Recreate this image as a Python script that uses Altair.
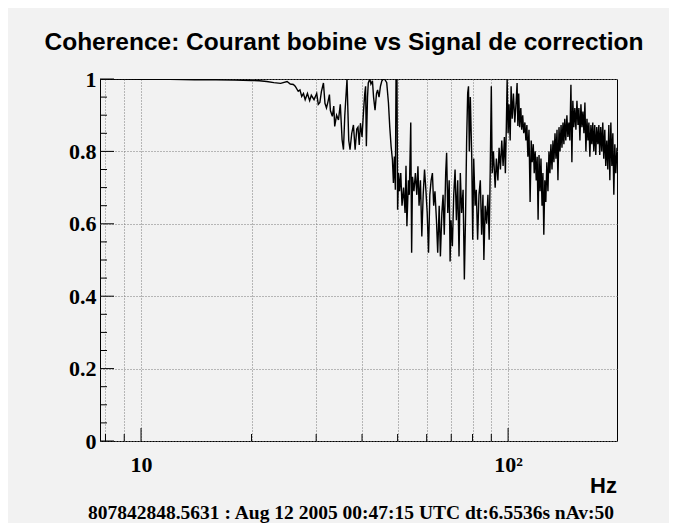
import altair as alt
import pandas as pd

# ---------------- data ----------------
title_text = "Coherence: Courant bobine vs Signal de correction"
x_unit = "Hz"
footer_text = "807842848.5631 : Aug 12 2005 00:47:15 UTC dt:6.5536s nAv:50"

freq_a = [7.73, 9, 10, 12, 14, 16, 18, 20, 21, 22, 23, 24, 25, 25.5, 26, 26.3]
coh_a = [1.0, 1.0, 0.999, 0.999, 0.998, 0.998, 0.997, 0.996, 0.995, 0.993, 0.99, 0.988, 0.993, 0.986, 0.985, 0.98]

freq_b = [26.8, 27.1, 27.4, 27.7, 28.0, 28.4, 28.8, 29.1, 29.6, 30.1, 30.4, 30.7, 31.0, 31.4, 31.7,
          32.0, 32.3, 32.6, 32.8, 33.2, 33.5, 33.7, 34.1, 34.5, 34.9, 35.3, 35.6, 35.9, 36.4, 36.8,
          37.1, 37.5, 37.9, 38.3, 38.7]
coh_b = [0.966, 0.97, 0.952, 0.96, 0.943, 0.96, 0.94, 0.955, 0.943, 0.96, 0.93, 0.935, 0.965, 0.989, 0.933,
         0.92, 0.937, 0.957, 0.913, 0.897, 0.925, 0.869, 0.9, 0.887, 0.93, 0.832, 0.805, 0.9, 1.0, 0.83,
         0.805, 0.85, 0.873, 0.805, 0.862]

freq_c = [39.0, 39.3, 39.6, 40.0, 40.4, 40.7, 40.9, 41.1, 41.4, 41.6, 42.0, 42.3, 42.7, 43.0, 43.4,
          43.8, 44.1, 44.5, 44.9, 45.3, 45.7, 46.2, 46.7, 47.2, 47.6, 48.0, 48.4, 48.7, 49.0, 49.3,
          49.5, 49.8, 50.0, 50.3, 50.6, 51.0, 51.4, 51.9, 52.4, 52.7, 53.0, 53.5, 53.8, 54.3, 54.6,
          54.9, 55.4, 55.9, 56.4]
coh_c = [0.867, 0.818, 0.878, 0.84, 0.915, 0.961, 0.98, 0.814, 0.95, 0.989, 1.0, 0.986, 0.995, 0.95, 0.914,
         0.96, 0.97, 0.95, 0.98, 0.995, 1.0, 0.998, 0.99, 0.935, 0.867, 0.814, 0.777, 0.713, 0.786, 0.694,
         1.0, 1.0, 0.639, 0.74, 0.69, 0.74, 0.65, 0.70, 0.63, 0.76, 0.593, 0.72, 0.68, 0.88, 0.52,
         0.73, 0.69, 0.74, 0.68]

freq_d = [56.8, 57.2, 57.7, 58.2, 58.7, 59.2, 59.7, 60.2, 60.7, 61.2, 61.7, 62.2, 62.7, 63.2, 63.8,
          64.3, 64.9, 65.4, 66.0, 66.5, 67.0, 67.6, 68.0, 68.5, 69.1, 69.5, 69.9, 70.5, 71.1, 71.7,
          72.3, 72.9, 73.5, 74.1, 74.7, 75.4, 76.0, 76.6, 77.1, 77.6, 78.0]
coh_d = [0.759, 0.65, 0.72, 0.565, 0.68, 0.75, 0.694, 0.63, 0.52, 0.68, 0.72, 0.74, 0.65, 0.69, 0.61,
         0.52, 0.65, 0.51, 0.63, 0.68, 0.57, 0.74, 0.796, 0.63, 0.72, 0.496, 0.61, 0.538, 0.68, 0.75,
         0.61, 0.72, 0.51, 0.74, 0.63, 0.694, 0.446, 0.63, 0.832, 0.961, 0.98]

freq_e = [78.4, 78.9, 79.6, 80.1, 80.6, 81.3, 81.9, 82.6, 83.3, 84.0, 84.7, 85.4, 85.9, 86.6, 87.4,
          88.1, 88.8, 89.4, 90.0, 90.5, 91.2, 92.2, 92.9, 93.8, 94.5, 95.3, 96.1, 96.9, 97.7, 98.3,
          98.9, 99.4, 100.0, 100.6, 101.3, 101.9, 102.6, 103.4, 104.3, 105.2]
coh_e = [0.8, 0.95, 0.785, 0.556, 0.78, 0.65, 0.694, 0.556, 0.68, 0.72, 0.57, 0.68, 0.5, 0.65, 0.6,
         0.68, 0.556, 0.75, 0.98, 0.74, 0.8, 0.7, 0.78, 0.72, 0.81, 0.75, 0.83, 0.76, 0.84, 0.74,
         0.87, 1.0, 0.85, 0.93, 0.83, 0.98, 0.89, 0.96, 0.88, 0.94]

freq_f = [105.8, 106.3, 106.9, 107.5, 108.3, 108.9, 109.6, 110.3, 111.1, 111.8, 112.5, 113.2, 114.0, 114.8, 115.6,
          116.3, 117.1, 117.8, 118.5, 119.3, 120.0, 120.7, 121.4, 122.2, 122.9, 123.7, 124.4, 125.1, 125.9, 126.7,
          127.5, 128.4, 129.2, 130.0, 130.8, 131.7, 132.5, 133.3, 134.2, 135.0, 135.9, 136.7, 137.6, 138.5, 139.4,
          140.2, 141.1, 141.9, 142.7, 143.6, 144.6, 145.5, 146.4, 147.3, 148.3, 149.2, 150.1, 151.0, 152.0, 153.0,
          154.0, 155.0, 155.9, 156.9, 157.9, 158.9, 159.9, 160.9, 161.9, 162.9, 164.0, 165.0, 166.0, 167.0, 168.1,
          169.1, 170.1, 171.2, 172.2, 173.3, 174.4, 175.6, 176.7, 177.7, 178.8, 180.0, 181.1, 182.2, 183.4, 184.5,
          185.7, 186.9, 188.1, 189.3, 190.5, 191.7, 192.9, 194.1, 195.3, 196.5, 198.0]
coh_f = [0.989, 0.87, 0.96, 0.867, 0.92, 0.86, 0.9, 0.85, 0.88, 0.83, 0.873, 0.785, 0.86, 0.66, 0.83,
         0.77, 0.82, 0.74, 0.8, 0.72, 0.785, 0.611, 0.79, 0.69, 0.78, 0.65, 0.74, 0.57, 0.72, 0.66,
         0.77, 0.69, 0.8, 0.74, 0.82, 0.75, 0.83, 0.77, 0.85, 0.78, 0.86, 0.72, 0.867, 0.8, 0.873,
         0.81, 0.88, 0.82, 0.89, 0.83, 0.9, 0.84, 0.88, 0.83, 0.984, 0.77, 0.94, 0.867, 0.92, 0.86,
         0.94, 0.873, 0.92, 0.83, 0.93, 0.867, 0.91, 0.85, 0.935, 0.8, 0.89, 0.83, 0.88, 0.785, 0.873,
         0.82, 0.88, 0.8, 0.873, 0.79, 0.867, 0.82, 0.873, 0.79, 0.867, 0.8, 0.88, 0.78, 0.86, 0.76,
         0.83, 0.75, 0.873, 0.72, 0.88, 0.76, 0.85, 0.68, 0.82, 0.74, 0.81]

freqs = freq_a + freq_b + freq_c + freq_d + freq_e + freq_f
cohs = coh_a + coh_b + coh_c + coh_d + coh_e + coh_f

x_grid_values = [8, 9, 10, 20, 30, 40, 50, 60, 70, 80, 90, 100]
x_major_ticks = [10, 100]
x_minor_ticks = [8, 9, 20, 30, 40, 50, 60, 70, 80, 90]
y_major_ticks = [0, 0.2, 0.4, 0.6, 0.8, 1.0]
y_minor_ticks = [0.05, 0.1, 0.15, 0.25, 0.3, 0.35, 0.45, 0.5, 0.55,
                 0.65, 0.7, 0.75, 0.85, 0.9, 0.95]

# ---------------- chart ----------------
W, H = 517, 362
BG = "#f2f2f2"
GRID = "#7a7a7a"
xscale = alt.Scale(type="log", domain=[7.73, 198], nice=False)
yscale = alt.Scale(domain=[0, 1], nice=False, zero=False)

df = pd.DataFrame({"f": freqs, "c": cohs})

line = alt.Chart(df).mark_line(color="black", strokeWidth=1.4, clip=True).encode(
    x=alt.X("f:Q", scale=xscale, axis=alt.Axis(
        values=x_grid_values, grid=True, gridDash=[1, 2], gridColor=GRID, gridWidth=1,
        ticks=False, domain=False, title=None, labelOverlap=False, labelFlush=False,
        labelExpr="datum.value == 10 ? '10' : (datum.value == 100 ? '10²' : '')",
        labelFont="Liberation Serif", labelFontWeight="bold", labelFontSize=22,
        labelColor="black", labelPadding=13)),
    y=alt.Y("c:Q", scale=yscale, axis=alt.Axis(
        values=y_major_ticks, grid=True, gridDash=[1, 2], gridColor=GRID, gridWidth=1,
        ticks=False, domain=False, title=None, labelOverlap=False, labelFlush=False,
        labelExpr="datum.value == 0 ? '0' : (datum.value == 1 ? '1' : format(datum.value, '.1f'))",
        labelFont="Liberation Serif", labelFontWeight="bold", labelFontSize=22,
        labelColor="black", labelPadding=4)),
)

def xticks(vals, length):
    return alt.Chart(pd.DataFrame({"xv": vals})).mark_rule(color="black", strokeWidth=1).encode(
        x=alt.X("xv:Q", scale=xscale, axis=None),
        y=alt.value(H), y2=alt.value(H - length))

def yticks(vals, length):
    return alt.Chart(pd.DataFrame({"yv": vals})).mark_rule(color="black", strokeWidth=1).encode(
        y=alt.Y("yv:Q", scale=yscale, axis=None),
        x=alt.value(0), x2=alt.value(length))

def label(txt, x, y, font, size, align="center"):
    return alt.Chart(pd.DataFrame({"t": [txt]})).mark_text(
        font=font, fontWeight="bold", fontSize=size, align=align, baseline="middle", color="black"
    ).encode(text="t:N", x=alt.value(x), y=alt.value(y))

chart = alt.layer(
    line,
    xticks(x_major_ticks, 13), xticks(x_minor_ticks, 7),
    yticks(y_major_ticks, 14), yticks(y_minor_ticks, 7),
    label(title_text, 244, -36, "Liberation Sans", 24.5),
    label(x_unit, W, 407, "Liberation Sans", 22, align="right"),
    label(footer_text, 251, 434, "Liberation Serif", 19.5),
).resolve_axis(x="independent", y="independent").properties(
    width=W, height=H,
    autosize=alt.AutoSizeParams(type="none"),
    padding={"left": 92, "top": 71, "right": 52, "bottom": 82},
    background=BG,
).configure_view(stroke="black", strokeWidth=1, fill=BG)

chart.save("out.html", embed_options={"renderer": "svg", "actions": False})
